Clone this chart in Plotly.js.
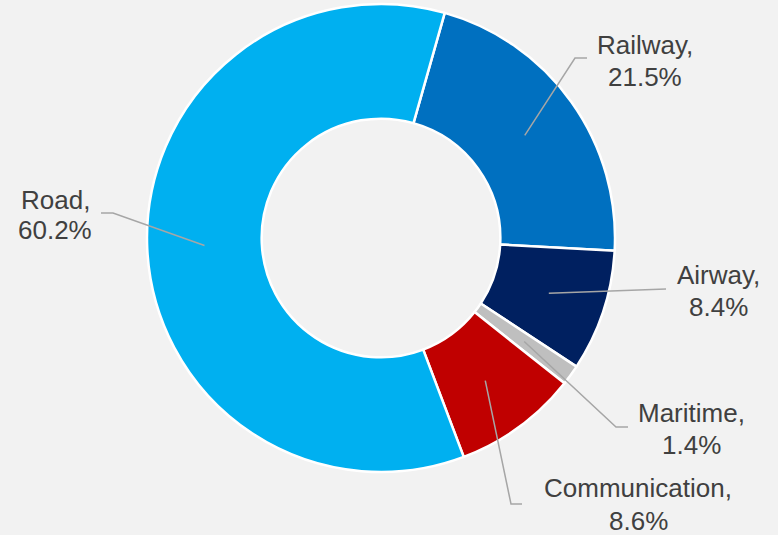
<!DOCTYPE html>
<html>
<head>
<meta charset="utf-8">
<script src="https://cdn.plot.ly/plotly-3.0.1.min.js"></script>
<style>
  html, body { margin: 0; padding: 0; background: #F2F2F2; }
  #chart { width: 778px; height: 535px; }
</style>
</head>
<body>
<div id="chart"></div>
<script>
// ---- data ----
const categories = ["Railway", "Airway", "Maritime", "Communication", "Road"];
const shares = [21.5, 8.4, 1.4, 8.6, 60.2];
const colors = ["#0070C0", "#002060", "#BFBFBF", "#C00000", "#00B0F0"];

// ---- layout settings (pixels) ----
const W = 778, H = 535;
const cx = 381, cy = 238, R = 234;
const holeFrac = 0.51;
const rotationDeg = 15.8;
// label centre x, first-line y, second-line y
const labelX  = [645, 718, 691, 638, 55];
const line1Y  = [45, 275, 413, 488, 200];
const line2Y  = [77, 307, 445, 521, 230];
// leader elbow / end points
const elbowPos = [[575, 58], [666, 289], [616, 427], [511, 504], [113, 213]];
const endPos   = [[587, 58], [666, 289], [628, 427], [522, 504], [101, 213]];

const px = x => x / W;
const py = y => 1 - y / H;
const font = { family: "Liberation Sans, Arial, sans-serif", size: 26, color: "#404040" };

const total = shares.reduce((a, b) => a + b, 0);
const rMid = R * (1 + holeFrac) / 2;
let cum = 0;
const shapes = [];
const annotations = [];
shares.forEach((v, i) => {
  const midDeg = rotationDeg + (cum + v / 2) / total * 360;
  cum += v;
  const a = midDeg * Math.PI / 180;
  const sx = cx + rMid * Math.sin(a), sy = cy - rMid * Math.cos(a);
  const [ex, ey] = elbowPos[i];
  const [fx, fy] = endPos[i];
  shapes.push({
    type: "path", xref: "paper", yref: "paper",
    path: `M ${px(sx)} ${py(sy)} L ${px(ex)} ${py(ey)} L ${px(fx)} ${py(fy)}`,
    line: { color: "#A6A6A6", width: 1.5 }
  });
  [[categories[i] + ",", line1Y[i]], [v.toFixed(1) + "%", line2Y[i]]].forEach(([t, y]) => {
    annotations.push({
      xref: "paper", yref: "paper",
      x: px(labelX[i]), y: py(y),
      xanchor: "center", yanchor: "middle", align: "center",
      showarrow: false, text: t, font: font
    });
  });
});

const trace = {
  type: "pie",
  labels: categories,
  values: shares,
  marker: { colors: colors, line: { color: "#FFFFFF", width: 2.5 } },
  hole: holeFrac,
  sort: false,
  direction: "clockwise",
  rotation: rotationDeg,
  textinfo: "none",
  hoverinfo: "skip",
  showlegend: false,
  domain: { x: [px(cx - R), px(cx + R)], y: [py(cy + R), py(cy - R)] }
};

const layout = {
  width: W, height: H,
  margin: { l: 0, r: 0, t: 0, b: 0 },
  paper_bgcolor: "#F2F2F2",
  plot_bgcolor: "#F2F2F2",
  showlegend: false,
  shapes: shapes,
  annotations: annotations
};

Plotly.newPlot("chart", [trace], layout, { displayModeBar: false, staticPlot: true });
</script>
</body>
</html>
